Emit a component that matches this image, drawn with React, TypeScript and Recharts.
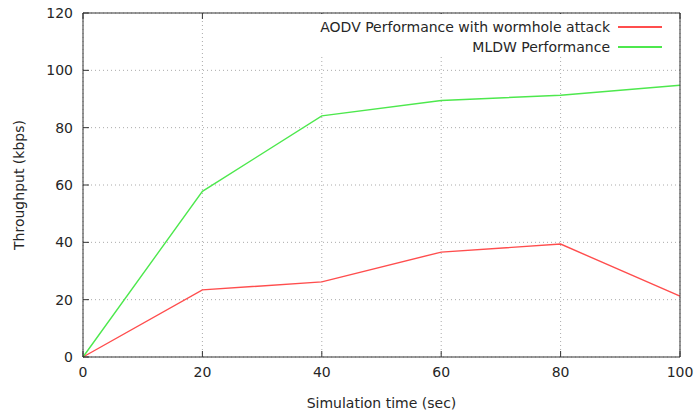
import React from 'react';
import { LineChart, Line, XAxis, YAxis, CartesianGrid, Legend } from 'recharts';

const simTime = [0, 20, 40, 60, 80, 100];
const aodvWormhole = [0, 23.4, 26.2, 36.6, 39.4, 21.2];
const mldw = [0, 57.8, 84.1, 89.5, 91.3, 94.8];
const xTicks = [0, 20, 40, 60, 80, 100];
const yTicks = [0, 20, 40, 60, 80, 100, 120];

const data = simTime.map((t, i) => ({ t, aodv: aodvWormhole[i], mldw: mldw[i] }));

const FONT = 'DejaVu Sans, sans-serif';
const TEXT = '#262626';
const BORDER = '#333333';
const TICK = 6;
const RED = '#ff4d4d';
const GREEN = '#4de84d';

// gnuplot-style ticks: label outside, short tick mark pointing inward
const BottomTick = (props: any) => {
    const { x, y, payload } = props;
    return (
        <g>
            <line x1={x} y1={y} x2={x} y2={y - TICK} stroke={BORDER} />
            <text x={x} y={y + 20} textAnchor="middle" fill={TEXT} fontSize={14} fontFamily={FONT}>
                {payload.value}
            </text>
        </g>
    );
};

const TopTick = (props: any) => {
    const { x, y } = props;
    return <line x1={x} y1={y} x2={x} y2={y + TICK} stroke={BORDER} />;
};

const LeftTick = (props: any) => {
    const { x, y, payload } = props;
    return (
        <g>
            <line x1={x} y1={y} x2={x + TICK} y2={y} stroke={BORDER} />
            <text x={x - 10} y={y + 5} textAnchor="end" fill={TEXT} fontSize={14} fontFamily={FONT}>
                {payload.value}
            </text>
        </g>
    );
};

const RightTick = (props: any) => {
    const { x, y } = props;
    return <line x1={x} y1={y} x2={x - TICK} y2={y} stroke={BORDER} />;
};

const KeyBox = () => {
    const rows = [
        { label: 'AODV Performance with wormhole attack', color: RED },
        { label: 'MLDW Performance', color: GREEN },
    ];
    return (
        <div style={{ background: '#fff', width: 368, height: 43, paddingTop: 3, boxSizing: 'border-box' }}>
            {rows.map((r) => (
                <div key={r.label} style={{ display: 'flex', alignItems: 'center', justifyContent: 'flex-end', height: 20 }}>
                    <span style={{ fontFamily: FONT, fontSize: 14, color: TEXT, marginRight: 8 }}>{r.label}</span>
                    <span style={{ display: 'inline-block', width: 44, height: 1.5, background: r.color, marginRight: 17 }} />
                </div>
            ))}
        </div>
    );
};

const App: React.FC = () => {
    return (
        <div style={{ position: 'absolute', left: 0, top: 0, width: 694, height: 416, background: '#fff' }}>
            <LineChart width={694} height={416} data={data} margin={{ top: 0, right: 0, left: 0, bottom: 0 }}>
                <CartesianGrid stroke="#aaaaaa" strokeDasharray="1 3" />
                <XAxis
                    dataKey="t"
                    type="number"
                    domain={[0, 100]}
                    ticks={xTicks}
                    height={59}
                    stroke={BORDER}
                    tickLine={false}
                    tickSize={0}
                    tickMargin={0}
                    tick={BottomTick}
                    label={{ value: 'Simulation time (sec)', position: 'insideBottom', offset: 8, fill: TEXT, fontSize: 14, fontFamily: FONT }}
                />
                <XAxis
                    xAxisId="top"
                    orientation="top"
                    dataKey="t"
                    type="number"
                    domain={[0, 100]}
                    ticks={xTicks}
                    height={13}
                    stroke={BORDER}
                    tickLine={false}
                    tickSize={0}
                    tickMargin={0}
                    tick={TopTick}
                />
                <YAxis
                    type="number"
                    domain={[0, 120]}
                    ticks={yTicks}
                    width={83}
                    stroke={BORDER}
                    tickLine={false}
                    tickSize={0}
                    tickMargin={0}
                    tick={LeftTick}
                    label={{ value: 'Throughput (kbps)', angle: -90, position: 'insideLeft', offset: 19, fill: TEXT, fontSize: 14, fontFamily: FONT, style: { textAnchor: 'middle' } }}
                />
                <YAxis
                    yAxisId="right"
                    orientation="right"
                    type="number"
                    domain={[0, 120]}
                    ticks={yTicks}
                    width={14}
                    stroke={BORDER}
                    tickLine={false}
                    tickSize={0}
                    tickMargin={0}
                    tick={RightTick}
                />
                <Legend
                    layout="vertical"
                    align="center"
                    verticalAlign="middle"
                    content={KeyBox}
                    wrapperStyle={{ position: 'absolute', top: 14, left: 311, width: 368 }}
                />
                <Line type="linear" dataKey="aodv" name="AODV Performance with wormhole attack" stroke={RED} strokeWidth={1.4} dot={false} isAnimationActive={false} />
                <Line type="linear" dataKey="mldw" name="MLDW Performance" stroke={GREEN} strokeWidth={1.4} dot={false} isAnimationActive={false} />
            </LineChart>
        </div>
    );
};

export default App;
